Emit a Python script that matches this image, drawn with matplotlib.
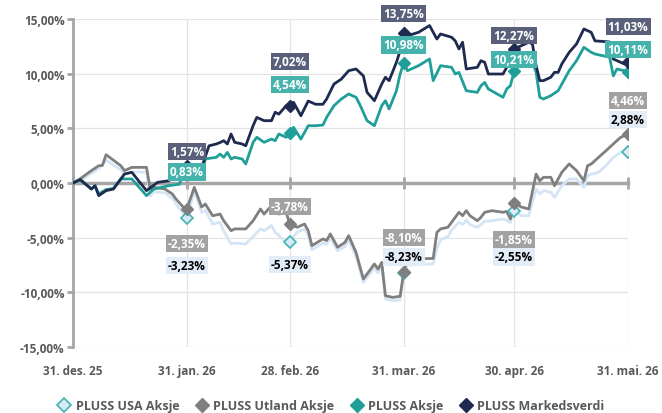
import numpy as np
import pandas as pd
import matplotlib
matplotlib.use('Agg')
import matplotlib.pyplot as plt
from matplotlib.lines import Line2D

plt.rcParams['font.family'] = ['Open Sans', 'DejaVu Sans']

start = pd.Timestamp('2025-12-31')

# days after 31 Dec 2025 and return in %
mv_days = [0, 2, 5, 6, 7, 9, 11, 14, 16, 20, 23, 26, 29, 31, 33, 35, 37, 39, 40, 41, 42, 43, 44, 46, 47,
           49, 50, 52, 54, 55, 56, 58, 59, 60, 62, 64, 66, 68, 69, 71, 73, 75, 77, 79, 80, 82, 84, 85,
           86, 88, 89, 90, 91, 94, 97, 99, 100, 103, 104, 105, 106, 107, 110, 111, 112, 113, 117, 118,
           119, 120, 122, 124, 125, 126, 127, 128, 130, 131, 132, 133, 135, 137, 139, 141, 142, 146,
           147, 148, 150, 151]
mv_vals = [0, 0.3, -0.55, -0.25, -1.16, -0.7, -0.55, 0.82, 0.98, -0.7, 0.06, 0.2, 0.98, 1.57, 1.28,
           1.43, 3.4, 3.57, 3.7, 3.87, 3.57, 4.48, 3.72, 3.57, 3.41, 5.24, 6.0, 5.7, 5.7, 6.47, 6.3,
           7.07, 7.02, 7.38, 6.15, 7.5, 7.2, 7.2, 7.68, 9.05, 9.5, 10.27, 10.43, 9.8, 8.29, 7.53, 9.05,
           9.67, 9.36, 11.04, 12.1, 13.75, 13.47, 13.78, 14.4, 13.17, 13.63, 13.33, 13.0, 12.26, 12.87,
           10.43, 10.58, 11.19, 11.04, 9.97, 9.97, 10.58, 12.0, 12.27, 12.56, 12.87, 12.72, 10.73, 9.36,
           9.36, 9.67, 10.12, 10.12, 10.89, 11.95, 12.72, 14.09, 13.78, 13.0, 12.9, 11.34, 11.19, 10.89,
           11.03]

ak_days = [0, 2, 5, 6, 7, 9, 11, 13, 16, 20, 22, 26, 29, 30, 31, 32, 35, 36, 39, 40, 41, 42, 43, 44,
           46, 47, 49, 50, 52, 54, 55, 56, 58, 59, 60, 62, 64, 66, 68, 69, 71, 73, 75, 77, 78, 80, 82,
           84, 85, 86, 88, 89, 90, 91, 94, 97, 98, 100, 103, 104, 105, 107, 110, 111, 112, 113, 117,
           118, 119, 120, 122, 124, 125, 126, 127, 128, 130, 132, 133, 135, 137, 139, 141, 142, 146,
           147, 148, 150, 151]
ak_vals = [0, 0.3, -0.55, -0.25, -1.0, -0.6, -0.5, 0.37, 0.37, -1.16, -0.55, -0.25, -0.1, 0.98, 0.83,
           0.52, 0.52, 2.2, 2.35, 2.65, 2.35, 2.8, 2.2, 2.35, 2.2, 1.74, 3.72, 4.18, 3.72, 4.02, 3.87,
           4.48, 4.18, 4.54, 5.09, 4.02, 5.24, 5.24, 5.3, 6.0, 7.07, 7.68, 8.14, 7.84, 7.2, 5.7, 5.24,
           7.07, 7.53, 6.77, 8.44, 9.97, 10.98, 10.27, 10.73, 11.34, 9.36, 10.73, 10.58, 9.97, 10.12,
           8.44, 8.29, 8.9, 9.2, 8.6, 7.84, 8.6, 8.9, 10.21, 11.04, 11.04, 11.04, 10.12, 7.84, 7.68,
           7.99, 8.44, 9.05, 10.27, 11.19, 12.41, 11.95, 11.8, 11.5, 9.8, 10.43, 10.27, 10.11]

ut_days = [0, 2, 5, 7, 8, 9, 13, 14, 16, 20, 21, 22, 25, 27, 28, 30, 31, 33, 35, 36, 38, 40, 41, 43,
           44, 47, 49, 51, 52, 54, 55, 56, 58, 59, 61, 63, 64, 65, 68, 69, 70, 72, 74, 75, 77, 79, 81,
           82, 83, 84, 85, 87, 89, 90, 91, 98, 99, 100, 102, 103, 105, 106, 107, 108, 110, 111, 112,
           114, 117, 118, 119, 120, 122, 124, 126, 127, 128, 130, 131, 133, 135, 137, 139, 140, 141,
           143, 145, 147, 149, 151]
ut_vals = [0, 0.4, 1.13, 1.58, 1.6, 2.59, 1.58, 1.13, 1.43, 1.43, -0.55, -0.4, -0.55, -1.0, -1.46,
           -2.2, -2.35, -0.4, -2.2, -1.92, -3.0, -2.84, -3.45, -4.36, -4.2, -4.2, -3.45, -2.38, -2.84,
           -2.07, -2.53, -2.84, -2.68, -3.78, -4.05, -3.75, -4.36, -5.73, -5.12, -5.27, -4.66, -5.88,
           -5.43, -4.82, -6.34, -8.78, -7.87, -7.41, -7.87, -7.26, -10.31, -10.46, -10.36, -8.10,
           -6.95, -6.9, -4.51, -4.2, -4.05, -3.6, -2.68, -2.99, -2.53, -2.99, -3.45, -3.14, -2.68,
           -2.53, -2.68, -2.6, -3.29, -1.85, -2.2, -2.38, 0.82, 0.2, 0.52, 0.52, -0.25, 0.98, 1.74,
           1.13, 0.2, 1.58, 1.74, 2.35, 2.95, 3.57, 4.18, 4.46]

us_days = [0, 2, 5, 7, 9, 13, 14, 16, 20, 21, 22, 25, 27, 28, 30, 31, 33, 35, 36, 38, 40, 41, 43, 44,
           47, 49, 51, 52, 54, 55, 56, 58, 59, 61, 63, 64, 65, 68, 69, 70, 72, 74, 75, 77, 79, 81, 82,
           83, 84, 85, 87, 89, 90, 91, 98, 99, 100, 102, 103, 105, 106, 107, 108, 110, 111, 112, 114,
           117, 118, 119, 120, 122, 124, 126, 127, 128, 130, 131, 133, 135, 137, 139, 140, 141, 143,
           145, 147, 149, 151]
us_vals = [0, 0.2, 0.9, 1.3, 2.1, 1.2, 0.8, 1.0, 1.0, -1.2, -0.8, -0.9, -1.4, -1.9, -2.8, -3.23,
           -0.7, -2.7, -2.5, -3.75, -3.6, -4.4, -5.58, -5.5, -5.58, -4.9, -4.2, -4.36, -3.9, -4.5,
           -4.82, -5.43, -5.37, -4.5, -4.2, -4.8, -6.1, -5.5, -5.6, -5.0, -6.2, -5.8, -5.2, -6.7, -9.1,
           -8.2, -7.8, -8.2, -7.6, -10.6, -10.77, -10.7, -8.23, -7.5, -7.4, -6.0, -5.2, -4.9, -4.3,
           -3.6, -3.8, -3.4, -3.8, -4.05, -3.8, -3.5, -3.45, -3.3, -3.4, -3.6, -2.55, -2.99, -3.0,
           -0.55, -1.0, -0.7, -0.85, -1.31, -0.25, 0.37, 0.37, -0.4, 0.67, 0.8, 0.98, 1.58, 2.35, 2.8,
           2.88]

month_days = [0, 31, 59, 90, 120, 151]
month_labels = ['31. des. 25', '31. jan. 26', '28. feb. 26', '31. mar. 26', '30. apr. 26', '31. mai. 26']

names = ['PLUSS USA Aksje', 'PLUSS Utland Aksje', 'PLUSS Aksje', 'PLUSS Markedsverdi']
line_colors = ['#d5e5f5', '#7f7f7f', '#1f9f97', '#1e2a4f']
box_colors = ['#e3edf8', '#a2a2a2', '#45b3ab', '#5a6079']
text_colors = ['black', 'white', 'white', 'white']
# label offsets (pixels) at month ends, per series
label_dy = [[-47, -23, 16, -46, 32],
            [-35, 18, 34, -36, 34],
            [2, 49, 18, 12, 23],
            [14, 45, 19, 13, 36]]


def to_dates(days):
    return start + pd.to_timedelta(days, unit='D')


def fmt(v):
    return f'{v:.2f}%'.replace('.', ',')


fig = plt.figure(figsize=(6.62, 4.14), dpi=100)
ax = fig.add_axes([73 / 662, 66 / 414, 555 / 662, 328 / 414])

series = [(us_days, us_vals), (ut_days, ut_vals), (ak_days, ak_vals), (mv_days, mv_vals)]
for i, (d, v) in enumerate(series):
    ax.plot(to_dates(d), v, color=line_colors[i], lw=2, zorder=3 + i)

# month-end markers and labels
for i, (d, v) in enumerate(series):
    md = [x for x in d if x in month_days[1:]]
    mval = [v[d.index(x)] for x in md]
    if i == 0:
        ax.plot(to_dates(md), mval, ls='none', marker='D', ms=6.5, mfc='#dbe9f6', mec='#3db5b0',
                mew=1.2, zorder=8)
    else:
        ax.plot(to_dates(md), mval, ls='none', marker='D', ms=6, color=line_colors[i], zorder=8 + i)
    for k, (x, y) in enumerate(zip(to_dates(md), mval)):
        ax.annotate(fmt(y), (x, y), xytext=(0, label_dy[i][k]), textcoords='offset pixels',
                    ha='center', va='center', fontsize=8.5, fontweight='bold', color=text_colors[i],
                    bbox=dict(boxstyle='square,pad=0.18', fc=box_colors[i], ec='none'), zorder=20)

ax.set_xlim(start, to_dates([151])[0])
ax.set_ylim(-15, 15)
ax.set_yticks(np.arange(-15, 16, 5))
ax.set_yticklabels([fmt(v) for v in np.arange(-15, 16, 5)])
ax.set_xticks(to_dates(month_days))
ax.grid(True, color='#e4e4e4', lw=0.9, zorder=0)

for s in ['top', 'right']:
    ax.spines[s].set_visible(False)
ax.spines['left'].set_color('#a6a6a6')
ax.spines['left'].set_linewidth(2)
ax.spines['bottom'].set_position(('data', 0))
ax.spines['bottom'].set_color('#a6a6a6')
ax.spines['bottom'].set_linewidth(2.5)
ax.spines['bottom'].set_zorder(2)
ax.tick_params(axis='x', direction='inout', length=8, width=2, color='#a6a6a6', labelbottom=False)
ax.tick_params(axis='y', direction='out', length=4, width=2, color='#a6a6a6', labelsize=8.5,
               labelcolor='#595959', pad=2)
for t in ax.get_yticklabels():
    t.set_fontweight('bold')

sec = ax.secondary_xaxis(0)
sec.set_xticks(to_dates(month_days))
sec.set_xticklabels(month_labels, fontsize=8.5, fontweight='bold', color='#595959')
sec.tick_params(length=0, pad=12)
sec.spines['bottom'].set_visible(False)

handles = [
    Line2D([], [], ls='none', marker='D', ms=7, mfc='#dbe9f6', mec='#3db5b0', mew=1.2),
    Line2D([], [], ls='none', marker='D', ms=7, color=line_colors[1]),
    Line2D([], [], ls='none', marker='D', ms=7, color=line_colors[2]),
    Line2D([], [], ls='none', marker='D', ms=7, color=line_colors[3]),
]
leg = fig.legend(handles, names, loc='center', bbox_to_anchor=(0.5, 0.017), ncol=4, frameon=False,
                 handletextpad=0.4, columnspacing=1.3, handlelength=1.0,
                 prop=dict(size=9, weight='bold'))
for t in leg.get_texts():
    t.set_color('#595959')

fig.savefig('out.png', dpi=100)
